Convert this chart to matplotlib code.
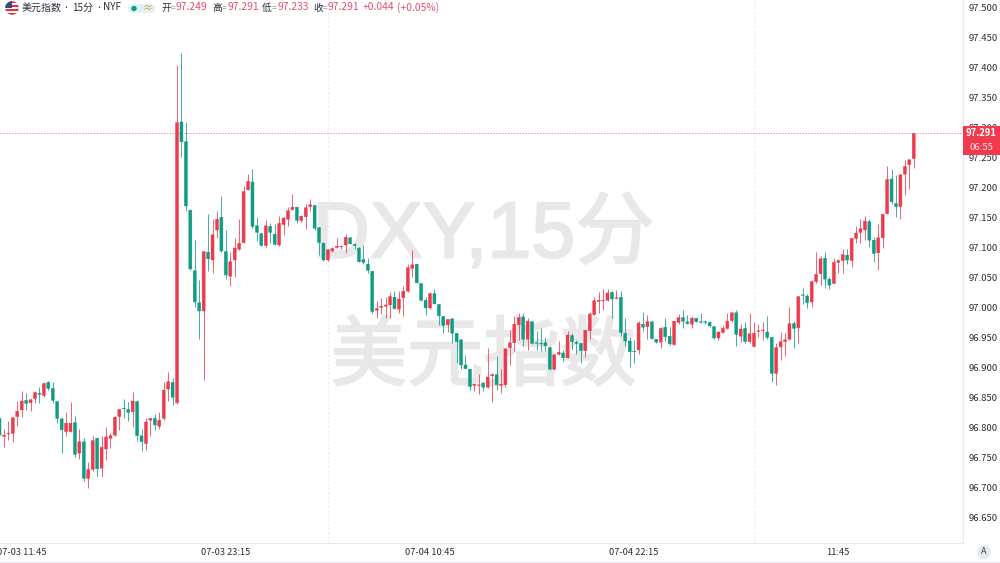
import matplotlib
matplotlib.use('Agg')
import matplotlib.pyplot as plt
import matplotlib.patheffects as pe
from matplotlib.patches import Circle, Rectangle, FancyBboxPatch

plt.rcParams['font.family'] = ['Noto Sans CJK SC', 'DejaVu Sans']

opens = [96.816,96.786,96.790,96.791,96.819,96.830,96.846,96.842,96.849,96.858,
96.854,96.876,96.866,96.844,96.815,96.794,96.794,96.809,96.758,96.777,
96.716,96.731,96.783,96.733,96.765,96.783,96.788,96.819,96.833,96.831,
96.827,96.844,96.787,96.774,96.813,96.816,96.803,96.816,96.865,96.876,
96.842,97.310,97.277,97.163,97.062,97.009,96.995,97.093,97.080,97.130,
97.151,97.094,97.053,97.080,97.098,97.109,97.197,97.210,97.137,97.124,
97.104,97.136,97.123,97.105,97.139,97.148,97.164,97.168,97.146,97.152,
97.169,97.171,97.134,97.108,97.080,97.095,97.101,97.102,97.105,97.117,
97.106,97.100,97.081,97.073,97.061,96.996,97.001,97.003,97.005,97.018,
96.998,97.017,97.028,97.066,97.073,97.041,97.013,97.000,97.024,97.006,
96.986,96.972,96.982,96.958,96.947,96.905,96.898,96.871,96.871,96.875,
96.868,96.887,96.889,96.871,96.872,96.934,96.942,96.972,96.985,96.948,
96.977,96.942,96.941,96.942,96.934,96.898,96.923,96.925,96.917,96.954,
96.943,96.941,96.929,96.962,96.989,97.011,97.012,97.013,97.026,97.016,
97.018,96.958,96.945,96.928,96.930,96.973,96.969,96.977,96.948,96.943,
96.968,96.953,96.939,96.976,96.984,96.977,96.973,96.983,96.977,96.977,
96.976,96.969,96.950,96.959,96.966,96.979,96.992,96.953,96.966,96.944,
96.936,96.961,96.962,96.960,96.951,96.891,96.935,96.944,96.948,96.974,
96.967,97.022,97.020,97.010,97.044,97.057,97.083,97.048,97.041,97.076,
97.079,97.088,97.079,97.116,97.126,97.130,97.144,97.113,97.092,97.117,
97.157,97.215,97.174,97.169,97.223,97.239,97.249]

highs = [96.820,96.798,96.812,96.819,96.845,96.862,96.859,96.848,96.861,96.869,
96.876,96.878,96.876,96.845,96.818,96.827,96.843,96.820,96.799,96.784,
96.743,96.786,96.784,96.786,96.801,96.791,96.820,96.832,96.848,96.844,
96.860,96.846,96.799,96.816,96.817,96.823,96.827,96.876,96.893,96.884,
97.405,97.425,97.310,97.165,97.113,97.047,97.095,97.157,97.149,97.162,
97.187,97.130,97.094,97.116,97.148,97.203,97.223,97.231,97.151,97.125,
97.147,97.141,97.140,97.153,97.151,97.169,97.190,97.169,97.155,97.173,
97.181,97.172,97.135,97.110,97.098,97.101,97.116,97.104,97.123,97.118,
97.109,97.102,97.105,97.083,97.062,97.012,97.016,97.018,97.026,97.028,
97.029,97.036,97.074,97.097,97.074,97.042,97.019,97.026,97.032,97.007,
96.987,96.982,96.983,96.959,96.948,96.922,96.899,96.874,96.890,96.876,
96.933,96.892,96.920,96.898,96.934,96.964,96.987,96.991,96.991,96.983,
96.978,96.961,96.966,96.951,96.936,96.924,96.945,96.930,96.962,96.959,
96.946,96.942,96.964,96.994,97.019,97.026,97.031,97.031,97.029,97.030,
97.029,96.983,96.951,96.946,96.978,96.993,96.988,96.978,96.949,96.968,
96.983,96.968,96.979,96.990,96.996,96.988,96.986,96.984,96.991,96.980,
96.979,96.970,96.961,96.972,96.991,96.993,96.997,96.974,96.977,96.991,
96.977,96.973,96.977,96.987,96.952,96.942,96.960,96.958,97.001,96.978,
97.020,97.033,97.024,97.046,97.094,97.086,97.093,97.052,97.084,97.081,
97.098,97.098,97.117,97.137,97.148,97.154,97.148,97.119,97.140,97.158,
97.237,97.231,97.222,97.223,97.247,97.248,97.291]

lows = [96.785,96.769,96.780,96.777,96.803,96.819,96.830,96.829,96.841,96.841,
96.851,96.863,96.842,96.808,96.759,96.787,96.793,96.752,96.748,96.711,
96.700,96.729,96.720,96.719,96.746,96.766,96.786,96.796,96.816,96.811,
96.801,96.778,96.762,96.763,96.787,96.797,96.799,96.813,96.845,96.838,
96.840,97.252,97.162,97.063,97.002,96.948,96.880,97.062,97.058,97.116,
97.094,97.048,97.037,97.051,97.097,97.108,97.196,97.133,97.111,97.103,
97.101,97.108,97.105,97.104,97.122,97.136,97.163,97.141,97.144,97.131,
97.161,97.130,97.088,97.079,97.079,97.093,97.100,97.099,97.091,97.106,
97.098,97.076,97.074,97.059,96.992,96.983,96.990,96.983,96.983,96.998,
96.991,96.987,97.027,97.052,97.041,97.012,96.989,96.999,97.006,96.972,
96.959,96.960,96.941,96.909,96.899,96.898,96.863,96.861,96.856,96.861,
96.867,96.844,96.863,96.859,96.869,96.905,96.927,96.947,96.936,96.930,
96.940,96.930,96.929,96.929,96.897,96.897,96.922,96.911,96.916,96.930,
96.924,96.909,96.919,96.949,96.988,96.992,96.997,97.012,96.983,97.015,
96.953,96.937,96.901,96.909,96.923,96.962,96.949,96.948,96.942,96.933,
96.945,96.938,96.938,96.974,96.967,96.973,96.967,96.976,96.975,96.974,
96.969,96.949,96.946,96.958,96.965,96.977,96.936,96.944,96.941,96.942,
96.935,96.952,96.946,96.949,96.877,96.872,96.913,96.920,96.947,96.933,
96.941,97.007,97.000,97.001,97.042,97.038,97.033,97.031,97.040,97.059,
97.058,97.073,97.069,97.109,97.109,97.114,97.102,97.077,97.063,97.100,
97.156,97.174,97.151,97.148,97.188,97.198,97.233]

closes = [96.788,96.788,96.791,96.817,96.828,96.845,96.841,96.847,96.859,96.856,
96.874,96.866,96.846,96.816,96.797,96.808,96.808,96.756,96.777,96.716,
96.731,96.779,96.732,96.768,96.785,96.787,96.818,96.831,96.832,96.826,
96.845,96.787,96.777,96.810,96.816,96.805,96.813,96.863,96.877,96.851,
97.309,97.277,97.170,97.065,97.010,96.995,97.094,97.082,97.122,97.148,
97.095,97.055,97.077,97.100,97.108,97.194,97.211,97.136,97.126,97.104,
97.137,97.126,97.106,97.141,97.150,97.162,97.168,97.146,97.153,97.167,
97.172,97.133,97.109,97.080,97.097,97.099,97.103,97.103,97.118,97.107,
97.104,97.077,97.076,97.063,96.994,96.999,97.003,97.005,97.019,96.999,
97.015,97.028,97.067,97.072,97.042,97.013,97.000,97.024,97.007,96.987,
96.971,96.981,96.958,96.944,96.905,96.899,96.869,96.873,96.872,96.868,
96.885,96.889,96.872,96.873,96.932,96.942,96.973,96.984,96.948,96.978,
96.941,96.941,96.940,96.937,96.898,96.922,96.926,96.917,96.955,96.944,
96.941,96.929,96.963,96.990,97.012,97.013,97.013,97.025,97.015,97.017,
96.959,96.945,96.927,96.927,96.975,96.968,96.977,96.949,96.943,96.966,
96.952,96.940,96.978,96.984,96.978,96.974,96.983,96.977,96.976,96.976,
96.970,96.950,96.960,96.966,96.978,96.992,96.956,96.965,96.944,96.957,
96.958,96.962,96.963,96.951,96.891,96.934,96.944,96.947,96.974,96.966,
97.019,97.021,97.009,97.044,97.056,97.082,97.048,97.038,97.076,97.079,
97.089,97.080,97.116,97.125,97.132,97.145,97.113,97.091,97.117,97.156,
97.214,97.177,97.169,97.222,97.236,97.247,97.291]

price_ticks = [97.5,97.45,97.4,97.35,97.3,97.25,97.2,97.15,97.1,97.05,97.0,
               96.95,96.9,96.85,96.8,96.75,96.7,96.65]
time_ticks = [5, 51, 97, 143, 189]
time_labels = ['07-03 11:45', '07-03 23:15', '07-04 10:45', '07-04 22:15', '11:45']
day_breaks = [74, 170]

RED = '#EC3A4E'
GREEN = '#0E9C82'
DARK = '#2a2e39'
VALUE = '#E5506A'
WATERMARK = '#e8e8e8'

fig = plt.figure(figsize=(10, 5.63), dpi=100)
ax = fig.add_axes([0, 20/563, 0.963, 543/563])

# watermark first so candles sit on top, stroke makes it as heavy as the original
heavy = [pe.withStroke(linewidth=1.5, foreground=WATERMARK)]
ax.text(0.502, 0.564, 'DXY,15分', transform=ax.transAxes, fontsize=57,
        family=['Liberation Sans', 'Noto Sans CJK SC'],
        color=WATERMARK, ha='center', va='center', zorder=0, path_effects=heavy)
ax.text(0.502, 0.341, '美元指数', transform=ax.transAxes, fontsize=55,
        color=WATERMARK, ha='center', va='center', zorder=0, path_effects=heavy)

for b in day_breaks:
    ax.axvline(b, color='#ececec', lw=0.8, ls=(0, (2, 2)), zorder=1)

xs = list(range(len(opens)))
colors = [RED if c >= o else GREEN for o, c in zip(opens, closes)]
ax.vlines(xs, lows, highs, colors=colors, lw=0.7, alpha=0.8, zorder=2)
bodies = ax.bar(xs, [abs(c - o) for o, c in zip(opens, closes)],
                bottom=[min(o, c) for o, c in zip(opens, closes)],
                width=0.68, color=colors, edgecolor=colors, lw=0.3, zorder=3)
for body in bodies:
    body.set_snap(False)

ax.axhline(closes[-1], color='#f2606f', lw=0.7, ls=(0, (1.5, 1.5)), alpha=0.7, zorder=1)

ax.set_xlim(0.113, 217.1)
ax.set_ylim(96.6083, 97.5133)
ax.yaxis.tick_right()
ax.set_yticks(price_ticks)
ax.set_yticklabels(['%.3f' % p for p in price_ticks])
ax.set_xticks(time_ticks)
ax.set_xticklabels(time_labels)
ax.tick_params(axis='y', length=0, pad=4, labelsize=6.8, labelcolor=DARK)
ax.tick_params(axis='x', length=0, pad=3.5, labelsize=6.7, labelcolor=DARK)
for s in ['top', 'left']:
    ax.spines[s].set_visible(False)
for s in ['right', 'bottom']:
    ax.spines[s].set_color('#e8e8ec')
    ax.spines[s].set_linewidth(0.8)

# overlay in pixel coordinates for header, price tag and the auto button
ov = fig.add_axes([0, 0, 1, 1])
ov.set_xlim(0, 1000)
ov.set_ylim(563, 0)
ov.axis('off')
ov.patch.set_alpha(0)

ov.add_patch(Rectangle((963, 126), 37, 29, color='#F23A4C', lw=0, zorder=5))
ov.text(981.5, 133, '%.3f' % closes[-1], color='white', fontsize=6.8, weight='bold',
        ha='center', va='center', zorder=6)
ov.text(981.5, 147, '06:55', color='#fde3e6', fontsize=6.8, ha='center', va='center', zorder=6)

ov.plot([0, 1000], [562, 562], color='#e8e8ec', lw=0.8)
ov.add_patch(Circle((984, 552), 7, color='#e6e9f0', lw=0))
ov.text(984, 552, 'A', color='#3a4050', fontsize=6.5, ha='center', va='center')

# flag
clip = Circle((12, 8), 6.8, transform=ov.transData)
for i in range(7):
    r = ov.add_patch(Rectangle((5, 1 + i*2), 14, 2, lw=0,
                               color='#d9364a' if i % 2 == 0 else '#f4f4f4'))
    r.set_clip_path(clip)
r = ov.add_patch(Rectangle((5, 1), 7, 7, color='#3b4a7e', lw=0))
r.set_clip_path(clip)

ov.text(22, 7.5, '美元指数', color=DARK, fontsize=7.2, va='center')
ov.text(66, 7.5, '•', color=DARK, fontsize=5, ha='center', va='center')
ov.text(72, 7.5, '15分', color=DARK, fontsize=7.2, va='center')
ov.text(98.5, 7.5, '•', color=DARK, fontsize=5, ha='center', va='center')
ov.text(103, 7.5, 'NYF', color=DARK, fontsize=7.2, va='center')

ov.add_patch(FancyBboxPatch((128, 4), 27, 9, boxstyle='round,pad=0,rounding_size=4.5',
                            color='#e2f3ef', lw=0))
ov.add_patch(Circle((134, 8.5), 2.7, color='#0E9C82', lw=0))
ov.text(148, 8, '≈', color='#e0895a', fontsize=7, ha='center', va='center')

header = [('开', 161, 176, opens[-1]), ('高', 212, 227, highs[-1]),
          ('低', 262, 277, lows[-1]), ('收', 313, 328, closes[-1])]
for name, x1, x2, val in header:
    ov.text(x1, 7.5, name, color=DARK, fontsize=7, va='center')
    ov.text(x1 + 10, 7.5, '=', color='#9aa0aa', fontsize=6.2, va='center')
    ov.text(x2, 7.5, '%.3f' % val, color=VALUE, fontsize=7.4, va='center')
ov.text(363, 7.5, '+0.044', color=VALUE, fontsize=7.4, va='center')
ov.text(397, 7.5, '(+0.05%)', color=VALUE, fontsize=7.4, va='center')

fig.savefig('out.png', dpi=100)
